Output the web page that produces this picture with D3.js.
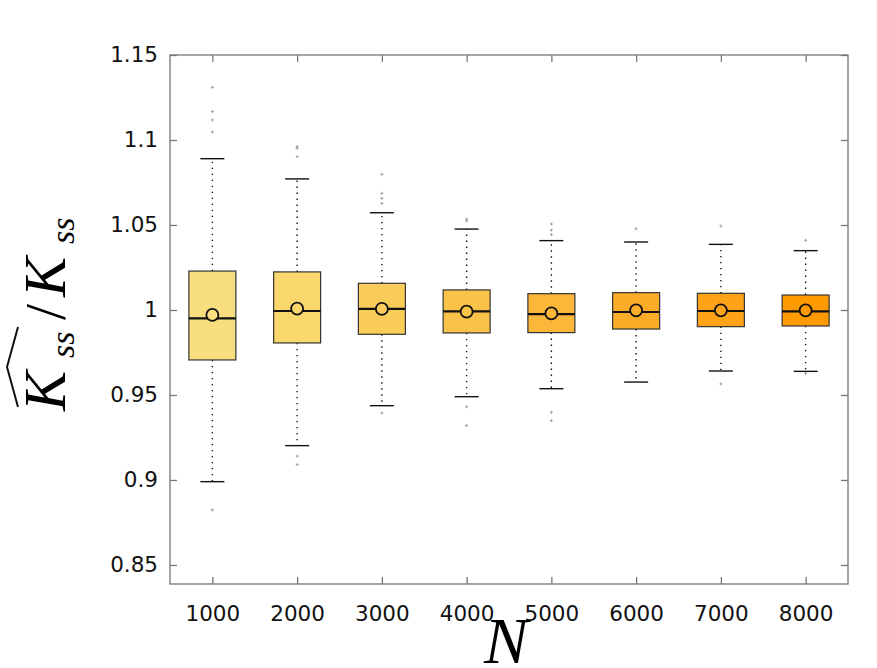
<!DOCTYPE html>
<html>
<head>
<meta charset="utf-8">
<script src="https://cdn.jsdelivr.net/npm/d3@7"></script>
<style>
  body { margin: 0; background: #fff; }
  svg { display: block; }
</style>
</head>
<body>
<svg id="chart"></svg>
<script>
// data
const sampleSizes = [1000, 2000, 3000, 4000, 5000, 6000, 7000, 8000];
const q1Values = [0.9706, 0.9806, 0.9857, 0.9865, 0.9867, 0.9888, 0.9902, 0.9906];
const medianValues = [0.9951, 0.9994, 1.0006, 0.9992, 0.9976, 0.9988, 0.9994, 0.9992];
const q3Values = [1.0229, 1.0224, 1.0157, 1.0118, 1.0096, 1.0102, 1.0098, 1.0088];
const meanValues = [0.9971, 1.0008, 1.0006, 0.9990, 0.9980, 0.9998, 0.9998, 0.9998];
const whiskerLow = [0.8990, 0.9202, 0.9437, 0.9490, 0.9537, 0.9576, 0.9641, 0.9639];
const whiskerHigh = [1.0890, 1.0771, 1.0572, 1.0476, 1.0408, 1.0400, 1.0386, 1.0349];
const outlierValues = [
  [1.131, 1.1167, 1.1118, 1.1047, 0.8824],
  [1.0961, 1.0951, 1.0902, 0.9140, 0.9090],
  [1.0798, 1.0686, 1.0657, 1.0627, 0.9394],
  [1.0535, 1.0525, 0.9430, 0.9320],
  [1.0506, 1.0470, 1.0443, 0.9398, 0.9349],
  [1.0478],
  [1.0494, 0.9565],
  [1.0410, 0.9627]
];
const yTicks = [0.85, 0.9, 0.95, 1, 1.05, 1.1, 1.15];
const boxColors = ["#f8de7f", "#f9d76c", "#facd5b", "#fbc24a", "#fcb73a", "#fdac29", "#fea218", "#ff9a00"];

const width = 877;
const height = 668;
const margin = { top: 55, right: 29, bottom: 84, left: 170 };
const innerWidth = width - margin.left - margin.right;
const innerHeight = height - margin.top - margin.bottom;

const svg = d3.select("#chart")
    .attr("width", width)
    .attr("height", height);

const chartGroup = svg.append("g")
    .attr("transform", `translate(${margin.left},${margin.top})`);

const xScale = d3.scaleLinear()
    .domain([500, 8500])
    .range([0, innerWidth]);

const yScale = d3.scaleLinear()
    .domain([0.8388, 1.15])
    .range([innerHeight, 0]);

const boxWidth = 47;
const capWidth = 24;
const tickFont = "'DejaVu Sans', sans-serif";

// axes (ticks pointing inward, like matlab)
const xAxis = d3.axisBottom(xScale).tickValues(sampleSizes).tickSize(-7).tickPadding(22).tickFormat(d3.format("d"));
const yAxis = d3.axisLeft(yScale).tickValues(yTicks).tickSize(-7).tickPadding(12).tickFormat(d => d3.format("")(d));

chartGroup.append("g")
    .attr("transform", `translate(0,${innerHeight})`)
    .call(xAxis);
chartGroup.append("g").call(yAxis);

chartGroup.append("g")
    .call(d3.axisTop(xScale).tickValues(sampleSizes).tickSize(-7).tickFormat(""));
chartGroup.append("g")
    .attr("transform", `translate(${innerWidth},0)`)
    .call(d3.axisRight(yScale).tickValues(yTicks).tickSize(-7).tickFormat(""));

chartGroup.selectAll(".domain").remove();
chartGroup.selectAll(".tick line").attr("stroke", "#777").attr("stroke-width", 1.3);
chartGroup.selectAll(".tick text")
    .attr("fill", "#111")
    .style("font-family", tickFont)
    .style("font-size", "21.5px");

// frame
chartGroup.append("rect")
    .attr("width", innerWidth)
    .attr("height", innerHeight)
    .attr("fill", "none")
    .attr("stroke", "#777")
    .attr("stroke-width", 1.3);

// boxes
sampleSizes.forEach((n, i) => {
  const cx = xScale(n);
  const g = chartGroup.append("g");

  // dotted whiskers
  g.append("line")
      .attr("x1", cx).attr("x2", cx)
      .attr("y1", yScale(q3Values[i])).attr("y2", yScale(whiskerHigh[i]))
      .attr("stroke", "#111").attr("stroke-width", 1.4)
      .attr("stroke-dasharray", "1.4 4.6");
  g.append("line")
      .attr("x1", cx).attr("x2", cx)
      .attr("y1", yScale(q1Values[i])).attr("y2", yScale(whiskerLow[i]))
      .attr("stroke", "#111").attr("stroke-width", 1.4)
      .attr("stroke-dasharray", "1.4 4.6");

  // caps
  [whiskerHigh[i], whiskerLow[i]].forEach(v => {
    g.append("line")
        .attr("x1", cx - capWidth / 2).attr("x2", cx + capWidth / 2)
        .attr("y1", yScale(v)).attr("y2", yScale(v))
        .attr("stroke", "#111").attr("stroke-width", 1.4);
  });

  // outliers as little grey crosses
  outlierValues[i].forEach(v => {
    const y = yScale(v);
    g.append("path")
        .attr("d", `M${cx - 1.5},${y}H${cx + 1.5}M${cx},${y - 1.5}V${y + 1.5}`)
        .attr("stroke", "#999").attr("stroke-width", 0.9);
  });

  g.append("rect")
      .attr("x", cx - boxWidth / 2)
      .attr("y", yScale(q3Values[i]))
      .attr("width", boxWidth)
      .attr("height", yScale(q1Values[i]) - yScale(q3Values[i]))
      .attr("fill", boxColors[i])
      .attr("stroke", "#333")
      .attr("stroke-width", 1.2);

  g.append("line")
      .attr("x1", cx - boxWidth / 2).attr("x2", cx + boxWidth / 2)
      .attr("y1", yScale(medianValues[i])).attr("y2", yScale(medianValues[i]))
      .attr("stroke", "#111").attr("stroke-width", 2.2);

  g.append("circle")
      .attr("cx", cx)
      .attr("cy", yScale(meanValues[i]))
      .attr("r", 6)
      .attr("fill", boxColors[i])
      .attr("stroke", "#111")
      .attr("stroke-width", 1.8);
});

// x label
svg.append("text")
    .attr("x", margin.left + innerWidth / 2 - 3)
    .attr("y", 663)
    .attr("text-anchor", "middle")
    .style("font-family", "'Liberation Serif', serif")
    .style("font-style", "italic")
    .style("font-size", "66px")
    .text("N");

// y label: hat(K_ss) / K_ss, rotated; local x = 407 - screen y
const yl = svg.append("g")
    .attr("transform", "translate(65,407) rotate(-90)");
const serif = "'Liberation Serif', serif";
function piece(str, x, size, dy, italic) {
  return yl.append("text")
      .attr("x", x)
      .attr("y", dy)
      .style("font-family", serif)
      .style("font-style", italic ? "italic" : "normal")
      .style("font-size", size + "px")
      .text(str);
}
piece("K", -4, 60, 0, true);
piece("ss", 49, 34, 9, true);
piece("/", 87, 58, 0, false);
piece("K", 110, 60, 0, true);
piece("ss", 163, 34, 9, true);

// wide hat over the first K_ss
yl.append("path")
    .attr("d", "M0,-47 L40,-58 L80,-47")
    .attr("fill", "none")
    .attr("stroke", "#111")
    .attr("stroke-width", 2);
</script>
</body>
</html>
